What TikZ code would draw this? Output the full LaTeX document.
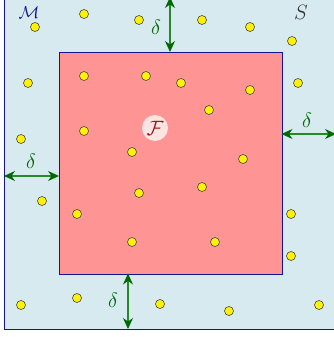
\documentclass[tikz,border=0pt]{standalone}
\usetikzlibrary{arrows.meta}
\definecolor{bgblue}{RGB}{214,234,240}
\definecolor{pinkf}{RGB}{255,148,148}
\definecolor{navy}{RGB}{20,20,140}
\definecolor{dgreen}{RGB}{0,105,0}
\definecolor{lgreen}{RGB}{40,135,40}
\definecolor{dred}{RGB}{150,20,20}
\begin{document}
\begin{tikzpicture}[x=1pt,y=-1pt,
  dot/.style={circle,draw={rgb,255:red,70;green,70;blue,70},line width=0.6pt,fill=yellow,minimum size=9pt,inner sep=0pt},
  gap/.style={draw=lgreen,line width=1.1pt,{Stealth[length=11pt,width=10pt,color=dgreen]}-{Stealth[length=11pt,width=10pt,color=dgreen]}},
  glabel/.style={text=dgreen,font=\fontsize{21}{21}\selectfont},
  region/.style={draw=navy,line width=1pt}]
\useasboundingbox (0,0) rectangle (334,337);
\clip (0,0) rectangle (334,337);
\node[region,fill=bgblue,minimum width=332pt,minimum height=332pt,inner sep=0pt,anchor=north west] (outer) at (4,-3) {};
\node[region,fill=pinkf,minimum width=222.5pt,minimum height=221.5pt,inner sep=0pt,anchor=north west] (inner) at (59,52) {};
\node[text=navy,inner sep=0pt,font=\fontsize{19}{19}\selectfont] (mlab) at (29,12.5) {$\mathcal{M}$};
\node[text=black!80,inner sep=0pt,font=\fontsize{21}{21}\selectfont] (slab) at (301,12) {$S$};
\node[circle,fill=white,fill opacity=0.75,text opacity=1,minimum size=26pt,inner sep=0pt,text=dred,font=\fontsize{20}{20}\selectfont] (flab) at (155,128) {$\mathcal{F}$};
\foreach \i/\x/\y in {1/35/27,2/84/14,3/139/20,4/202/20,5/250/27,6/292/41,
  7/28/83,8/84/76,9/146/76,10/181/83,11/250/90,12/298/83,13/209/110,
  14/84/131,15/21/139,16/132/152,17/243/159,18/42/201,19/139/193,20/202/187,
  21/77/214,22/291/214,23/132/242,24/215/242,25/291/256,
  26/21/305,27/77/298,28/160/304,29/229/311,30/319/305}
  \node[dot] (d\i) at (\x,\y) {};
\coordinate (tA) at (170,-3);
\coordinate (tB) at (170,52);
\coordinate (lA) at (4,176);
\coordinate (lB) at (59,176);
\coordinate (rA) at (281.5,134);
\coordinate (rB) at (336,134);
\coordinate (bA) at (128,273.5);
\coordinate (bB) at (128,329);
\draw[gap] (tA) -- (tB);
\draw[gap] (lA) -- (lB);
\draw[gap] (rA) -- (rB);
\draw[gap] (bA) -- (bB);
\node[glabel] (dt) at (156,27) {$\delta$};
\node[glabel] (dl) at (31,161) {$\delta$};
\node[glabel] (dr) at (307,120) {$\delta$};
\node[glabel] (db) at (113,300) {$\delta$};
\end{tikzpicture}
\end{document}
